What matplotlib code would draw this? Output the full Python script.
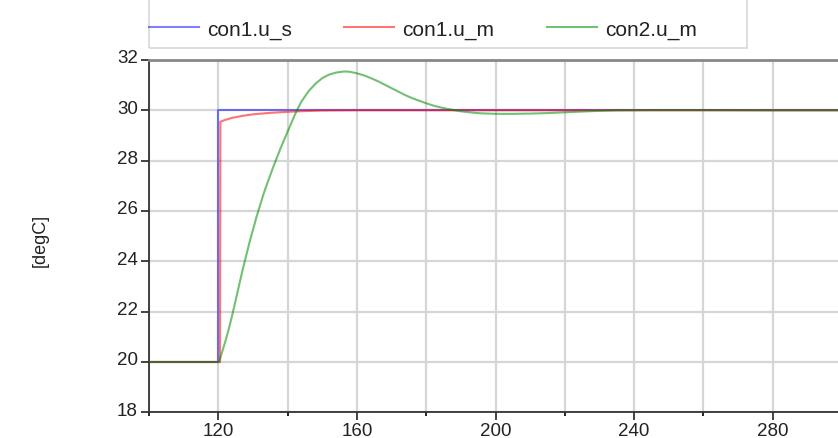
import matplotlib
matplotlib.use('Agg')
import matplotlib.pyplot as plt
import matplotlib.transforms as mtransforms
from matplotlib.patches import Rectangle

plt.rcParams['font.family'] = ['Liberation Sans', 'DejaVu Sans']

# ── data ──────────────────────────────────────────────────────────────────────
t_us = [100, 120, 120, 300]
us   = [20, 20, 30, 30]

t_um1 = [100, 120.5, 120.6, 122, 124, 127, 130, 135, 140, 145, 150, 160, 300]
um1   = [20, 20, 29.55, 29.62, 29.70, 29.78, 29.84, 29.90, 29.94, 29.97, 29.99, 30.0, 30.0]

t_um2 = [100, 120.2, 121, 122, 123, 124, 125, 126, 127, 128, 129, 130, 131, 132,
         133, 134, 136, 138, 140, 142.5, 144, 146, 148, 150, 152, 154, 156, 157,
         158, 160, 162, 164, 166, 168, 170, 172, 174, 176, 178, 180, 182, 184,
         186, 188, 190, 192, 194, 196, 198, 200, 205, 210, 215, 220, 225, 230,
         235, 245, 260, 280, 300]
um2   = [20, 20, 20.35, 20.8, 21.3, 21.85, 22.45, 23.05, 23.65, 24.2, 24.75, 25.25, 25.75, 26.2,
         26.65, 27.05, 27.8, 28.5, 29.15, 29.95, 30.35, 30.75, 31.05, 31.28, 31.42, 31.5, 31.54, 31.54,
         31.53, 31.47, 31.39, 31.28, 31.16, 31.02, 30.88, 30.74, 30.6, 30.48, 30.38, 30.28, 30.19, 30.12,
         30.06, 30.01, 29.96, 29.93, 29.9, 29.88, 29.87, 29.86, 29.86, 29.87, 29.89, 29.92, 29.95, 29.98,
         30.0, 30.01, 30.01, 30.0, 30.0]

labels = ['con1.u_s', 'con1.u_m', 'con2.u_m']
colors = [(0, 0, 1, 0.5), (1, 0, 0, 0.55), (0, 0.55, 0, 0.55)]

x_major = [120, 160, 200, 240, 280]
x_minor = list(range(100, 301, 20))
y_ticks = list(range(18, 33, 2))

# ── figure ────────────────────────────────────────────────────────────────────
fig = plt.figure(figsize=(8.38, 4.39), dpi=100)
ax = fig.add_axes([0.1778, 0.0585, 0.827, 0.8026])

series = [(t_us, us), (t_um1, um1), (t_um2, um2)]
handles = []
for (tx, vy), lab, col in zip(series, labels, colors):
    h, = ax.plot(tx, vy, color=col, linewidth=1.5, label=lab, zorder=3)
    handles.append(h)

ax.set_xlim(100, 300)
ax.set_ylim(18, 32)
ax.set_xticks(x_major)
ax.set_xticks(x_minor, minor=True)
ax.set_yticks(y_ticks)

ax.grid(True, which='both', axis='x', color='#d6d6d6', linewidth=1.6, zorder=0)
ax.grid(True, which='major', axis='y', color='#d6d6d6', linewidth=1.6, zorder=0)

ax.tick_params(axis='both', labelsize=13.5, colors='#222222', direction='out')
ax.tick_params(axis='x', which='major', length=6, width=1.2, pad=1)
ax.tick_params(axis='x', which='minor', length=3, width=1.2)
ax.tick_params(axis='y', length=6, width=1.2, pad=2)

# y tick labels sit a bit above their ticks
off = mtransforms.ScaledTranslation(0, 4 / 100, fig.dpi_scale_trans)
for lbl in ax.get_yticklabels():
    lbl.set_transform(lbl.get_transform() + off)

ax.spines['right'].set_visible(False)
ax.spines['top'].set_color('#888888')
ax.spines['top'].set_linewidth(2)
ax.spines['left'].set_color('#333333')
ax.spines['left'].set_linewidth(1.3)
ax.spines['bottom'].set_color('#333333')
ax.spines['bottom'].set_linewidth(1.3)

fig.text(40 / 838, 1 - 240 / 439, '[degC]', rotation=90, ha='center', va='center',
         fontsize=13, color='#222222')

# ── legend ────────────────────────────────────────────────────────────────────
fig.legend(handles=handles, labels=labels, ncol=3, frameon=False,
           loc='center left', bbox_to_anchor=(149 / 838, 1 - 30 / 439),
           fontsize=15, handlelength=2.4, handletextpad=0.4,
           columnspacing=2.5, borderpad=0, borderaxespad=0,
           labelcolor='#222222')
fig.patches.append(Rectangle((149 / 838, 1 - 49 / 439), 598 / 838, 60 / 439,
                             transform=fig.transFigure, fill=False,
                             edgecolor='#d8d8d8', linewidth=1.2))

fig.savefig('out.png', dpi=100)
